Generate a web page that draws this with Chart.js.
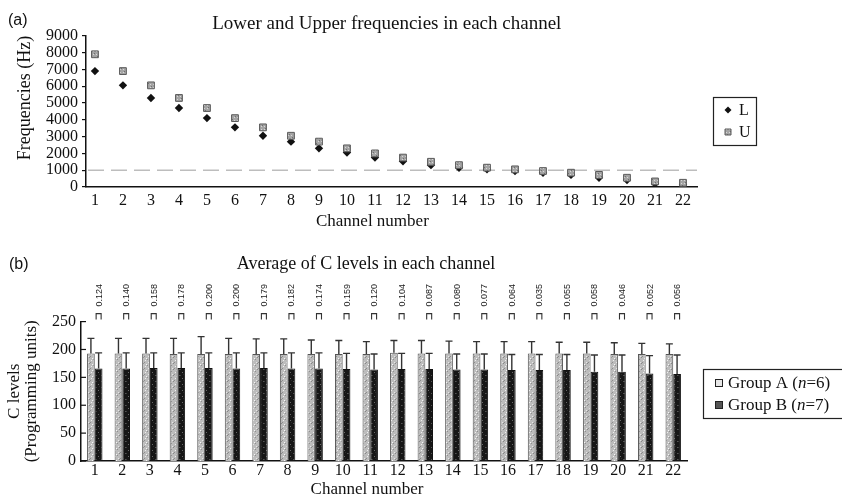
<!DOCTYPE html>
<html><head><meta charset="utf-8">
<script src="https://cdn.jsdelivr.net/npm/chart.js@4.4.1/dist/chart.umd.min.js"></script>
<style>
html,body{margin:0;padding:0;background:#ffffff;}
body{width:842px;height:502px;position:relative;overflow:hidden;}
canvas{position:absolute;left:0;}
#ca{top:0;}
#cb{top:245px;}
</style></head><body>
<canvas id="ca" width="842" height="245"></canvas>
<canvas id="cb" width="842" height="257"></canvas>
<script>
// ---------- data ----------
const channels = [1,2,3,4,5,6,7,8,9,10,11,12,13,14,15,16,17,18,19,20,21,22];
const lowerHz = [6900,6050,5300,4700,4100,3550,3050,2700,2300,2050,1750,1530,1300,1150,1050,950,850,720,550,420,200,150];
const upperHz = [7900,6900,6050,5300,4700,4100,3550,3050,2700,2300,2000,1750,1500,1300,1150,1050,950,850,720,550,330,250];
const REF_HZ = 1000;
const groupAMean = [193,193,193,192,192,192,192,192,192,192,192,194,193,193,193,193,193,193,193,192,192,192];
const groupASD   = [27,27,27,28,31,28,27,27,25,24,22,22,23,22,21,21,21,20,20,20,19,18];
const groupBMean = [166,166,167,167,167,166,167,166,166,165,164,165,165,164,164,163,163,163,160,160,157,156];
const groupBSD   = [28,28,27,27,27,28,27,28,28,28,28,28,28,28,28,28,28,28,30,30,32,34];
const pValues = [0.124,0.140,0.158,0.178,0.200,0.200,0.179,0.182,0.174,0.159,0.120,0.104,0.087,0.080,0.077,0.064,0.035,0.055,0.058,0.046,0.052,0.056];

const NB = '\u00A0';
const SERIF = '"Liberation Serif", "Times New Roman", serif';
const SANS = '"Liberation Sans", Arial, sans-serif';
Chart.defaults.font.family = SERIF;
Chart.defaults.color = '#111';

function makePattern(ctx, base, dots){
  const c = document.createElement('canvas'); c.width = 6; c.height = 6;
  const g = c.getContext('2d'); g.fillStyle = base; g.fillRect(0,0,6,6);
  dots.forEach(([x,y,col]) => { g.fillStyle = col; g.fillRect(x,y,1,1); });
  return ctx.createPattern(c, 'repeat');
}

// ---------- chart (a) ----------
const ctxA = document.getElementById('ca').getContext('2d');
const patU = makePattern(ctxA, '#a4a4a4', [[0,0,'#d8d8d8'],[3,0,'#d8d8d8'],[0,3,'#d8d8d8'],[3,3,'#d8d8d8'],[1,2,'#707070'],[4,5,'#707070']]);
const plugA = {
  id: 'annotA',
  beforeDatasetsDraw(chart){
    const {ctx, chartArea: a, scales: {y}} = chart;
    const py = y.getPixelForValue(REF_HZ);
    ctx.save(); ctx.strokeStyle = '#bdbdbd'; ctx.lineWidth = 1.5; ctx.setLineDash([16,7]);
    ctx.beginPath(); ctx.moveTo(a.left + 2, py); ctx.lineTo(a.right, py); ctx.stroke(); ctx.restore();
  },
  afterDraw(chart){
    const ctx = chart.ctx; ctx.save();
    ctx.fillStyle = '#111'; ctx.textBaseline = 'middle'; ctx.textAlign = 'left';
    ctx.font = '16px ' + SANS; ctx.fillText('(a)', 8, 21);
    ctx.strokeStyle = '#222'; ctx.lineWidth = 1.2; ctx.strokeRect(713.5, 97.5, 43, 48);
    const ds = chart.data.datasets; const rows = [110, 132];
    ds.forEach((d, i) => {
      const yy = rows[i], xx = 728;
      ctx.fillStyle = d.backgroundColor; ctx.strokeStyle = d.borderColor; ctx.lineWidth = 1;
      ctx.beginPath();
      if (d.pointStyle === 'rectRot'){ ctx.moveTo(xx-3.5,yy); ctx.lineTo(xx,yy-3.5); ctx.lineTo(xx+3.5,yy); ctx.lineTo(xx,yy+3.5); ctx.closePath(); ctx.fill(); }
      else { ctx.rect(xx-3,yy-3,6,6); ctx.fill(); ctx.stroke(); }
      ctx.fillStyle = '#111'; ctx.font = '16px ' + SERIF; ctx.fillText(d.label, 739, yy + 1);
    });
    ctx.restore();
  }
};
new Chart(ctxA, {
  type: 'scatter',
  data: { datasets: [
    { label: 'L', order: 1, data: channels.map((c,i) => ({x: c, y: lowerHz[i]})),
      pointStyle: 'rectRot', pointRadius: 4.2, backgroundColor: '#111', borderColor: '#111', borderWidth: 0 },
    { label: 'U', order: 0, data: channels.map((c,i) => ({x: c, y: upperHz[i]})),
      pointStyle: 'rect', pointRadius: 4.8, backgroundColor: patU, borderColor: '#5a5a5a', borderWidth: 1 }
  ]},
  options: {
    responsive: false, animation: false,
    layout: { padding: { left: 0, right: 145, top: 0, bottom: 0 } },
    plugins: {
      legend: { display: false }, tooltip: { enabled: false },
      title: { display: true, fullSize: false, text: 'Lower and Upper frequencies in each channel' + NB.repeat(2),
        font: { size: 19, weight: 'normal' }, color: '#111', padding: { top: 13, bottom: 0 } }
    },
    scales: {
      x: { type: 'linear', min: 0.68, max: 22.5,
        ticks: { stepSize: 1, includeBounds: false, maxTicksLimit: 40, autoSkip: false, maxRotation: 0, padding: 4,
          font: { size: 16 }, color: '#111', callback: v => Number.isInteger(v) ? String(v) : '' },
        grid: { display: false, drawTicks: false },
        border: { display: true, color: '#111', width: 1.5 },
        title: { display: true, text: 'Channel number' + NB.repeat(9), font: { size: 17 }, color: '#111', padding: { top: 0, bottom: 13 } },
        afterFit(s){ s.height = 58; }
      },
      y: { min: 0, max: 9000,
        ticks: { stepSize: 1000, autoSkip: false, padding: 4, font: { size: 16 }, color: '#111', callback: v => String(v) },
        grid: { display: true, drawOnChartArea: false, drawTicks: true, tickLength: 4, color: '#111', lineWidth: 1.2 },
        border: { display: true, color: '#111', width: 1.5 },
        title: { display: true, align: 'end', text: 'Frequencies (Hz)', font: { size: 18 }, color: '#111', padding: { top: 14, bottom: 0 } },
        afterFit(s){ s.width = 86; }
      }
    }
  },
  plugins: [plugA]
});

// ---------- chart (b) ----------
const ctxB = document.getElementById('cb').getContext('2d');
const patA = makePattern(ctxB, '#bcbcbc', [[1,1,'#eeeeee'],[4,3,'#e6e6e6'],[2,5,'#f6f6f6'],[0,3,'#8c8c8c'],[3,0,'#909090'],[5,4,'#888888']]);
const patB = makePattern(ctxB, '#161616', [[2,1,'#6a6a6a'],[5,4,'#555555'],[0,4,'#3c3c3c'],[3,3,'#2a2a2a']]);

const plugB = {
  id: 'annotB',
  afterDatasetsDraw(chart){
    const {ctx, chartArea: a, scales: {y}} = chart;
    ctx.save();
    // error bars (mean + SD)
    chart.data.datasets.forEach((d, di) => {
      const meta = chart.getDatasetMeta(di);
      meta.data.forEach((bar, i) => {
        const top = y.getPixelForValue(d.data[i] + d.sd[i]);
        ctx.strokeStyle = '#333'; ctx.lineWidth = 1.4;
        ctx.beginPath(); ctx.moveTo(bar.x, bar.y); ctx.lineTo(bar.x, top);
        ctx.moveTo(bar.x - 3.5, top); ctx.lineTo(bar.x + 3.5, top); ctx.stroke();
      });
    });
    // inward ticks on y axis
    ctx.strokeStyle = '#111'; ctx.lineWidth = 1.2;
    y.ticks.forEach(t => { const py = y.getPixelForValue(t.value); ctx.beginPath(); ctx.moveTo(a.left, py); ctx.lineTo(a.left + 5, py); ctx.stroke(); });
    // p-value brackets
    const metaB = chart.getDatasetMeta(1);
    const yb = a.top - 2;
    metaB.data.forEach((bar, i) => {
      const x = bar.x;
      ctx.strokeStyle = '#333'; ctx.lineWidth = 1.1;
      ctx.beginPath(); ctx.moveTo(x - 2.5, yb); ctx.lineTo(x - 2.5, yb - 6); ctx.lineTo(x + 2.5, yb - 6); ctx.lineTo(x + 2.5, yb); ctx.stroke();
      ctx.save(); ctx.translate(x + 0.5, yb - 13); ctx.rotate(-Math.PI / 2);
      ctx.font = '9px ' + SANS; ctx.fillStyle = '#222'; ctx.textAlign = 'left'; ctx.textBaseline = 'middle';
      ctx.fillText(pValues[i].toFixed(3), 0, 0); ctx.restore();
    });
    ctx.restore();
  },
  afterDraw(chart){
    const ctx = chart.ctx; ctx.save();
    ctx.fillStyle = '#111'; ctx.textBaseline = 'middle'; ctx.textAlign = 'left';
    ctx.font = '16px ' + SANS; ctx.fillText('(b)', 9, 20);
    ctx.strokeStyle = '#222'; ctx.lineWidth = 1.2; ctx.strokeRect(703.5, 124.5, 150, 49);
    const rows = [138, 160];
    chart.data.datasets.forEach((d, i) => {
      const yy = rows[i];
      ctx.fillStyle = i === 0 ? '#e6e6e6' : '#555'; ctx.strokeStyle = '#222'; ctx.lineWidth = 1;
      ctx.fillRect(715, yy - 4, 8, 8); ctx.strokeRect(715.5, yy - 3.5, 7, 7);
      const lab = d.label; const k = lab.indexOf('n=');
      const pre = lab.slice(0, k), post = lab.slice(k + 1);
      let x = 728; ctx.fillStyle = '#111';
      ctx.font = '17px ' + SERIF; ctx.fillText(pre, x, yy + 1); x += ctx.measureText(pre).width;
      ctx.font = 'italic 17px ' + SERIF; ctx.fillText('n', x, yy + 1); x += ctx.measureText('n').width;
      ctx.font = '17px ' + SERIF; ctx.fillText(post, x, yy + 1);
    });
    ctx.restore();
  }
};
new Chart(ctxB, {
  type: 'bar',
  data: { labels: channels, datasets: [
    { label: 'Group A (n=6)', data: groupAMean, sd: groupASD, backgroundColor: patA, borderColor: '#555', borderWidth: 1,
      categoryPercentage: 0.56, barPercentage: 1.0 },
    { label: 'Group B (n=7)', data: groupBMean, sd: groupBSD, backgroundColor: patB, borderColor: '#111', borderWidth: 1,
      categoryPercentage: 0.56, barPercentage: 1.0 }
  ]},
  options: {
    responsive: false, animation: false,
    layout: { padding: { left: 0, right: 155, top: 0, bottom: 0 } },
    plugins: {
      legend: { display: false }, tooltip: { enabled: false },
      title: { display: true, fullSize: false, text: 'Average of C levels in each channel' + NB.repeat(8),
        font: { size: 18, weight: 'normal' }, color: '#111', padding: { top: 8, bottom: 47 } }
    },
    scales: {
      x: {
        ticks: { autoSkip: false, maxRotation: 0, padding: 0, font: { size: 16 }, color: '#111' },
        grid: { display: false, drawTicks: false },
        border: { display: true, color: '#111', width: 1.5 },
        title: { display: true, text: 'Channel number' + NB.repeat(8), font: { size: 17 }, color: '#111', padding: { top: 0, bottom: 2 } },
        afterFit(s){ s.height = 41; }
      },
      y: { min: 0, max: 250,
        ticks: { stepSize: 50, padding: 5, font: { size: 16 }, color: '#111' },
        grid: { display: false, drawTicks: false },
        border: { display: true, color: '#111', width: 1.5 },
        title: { display: true, text: ['C levels', '(Programming units)'], font: { size: 17, lineHeight: 1.0 }, color: '#111', padding: { top: 6, bottom: 0 } },
        afterFit(s){ s.width = 81; }
      }
    }
  },
  plugins: [plugB]
});
</script>
</body></html>
